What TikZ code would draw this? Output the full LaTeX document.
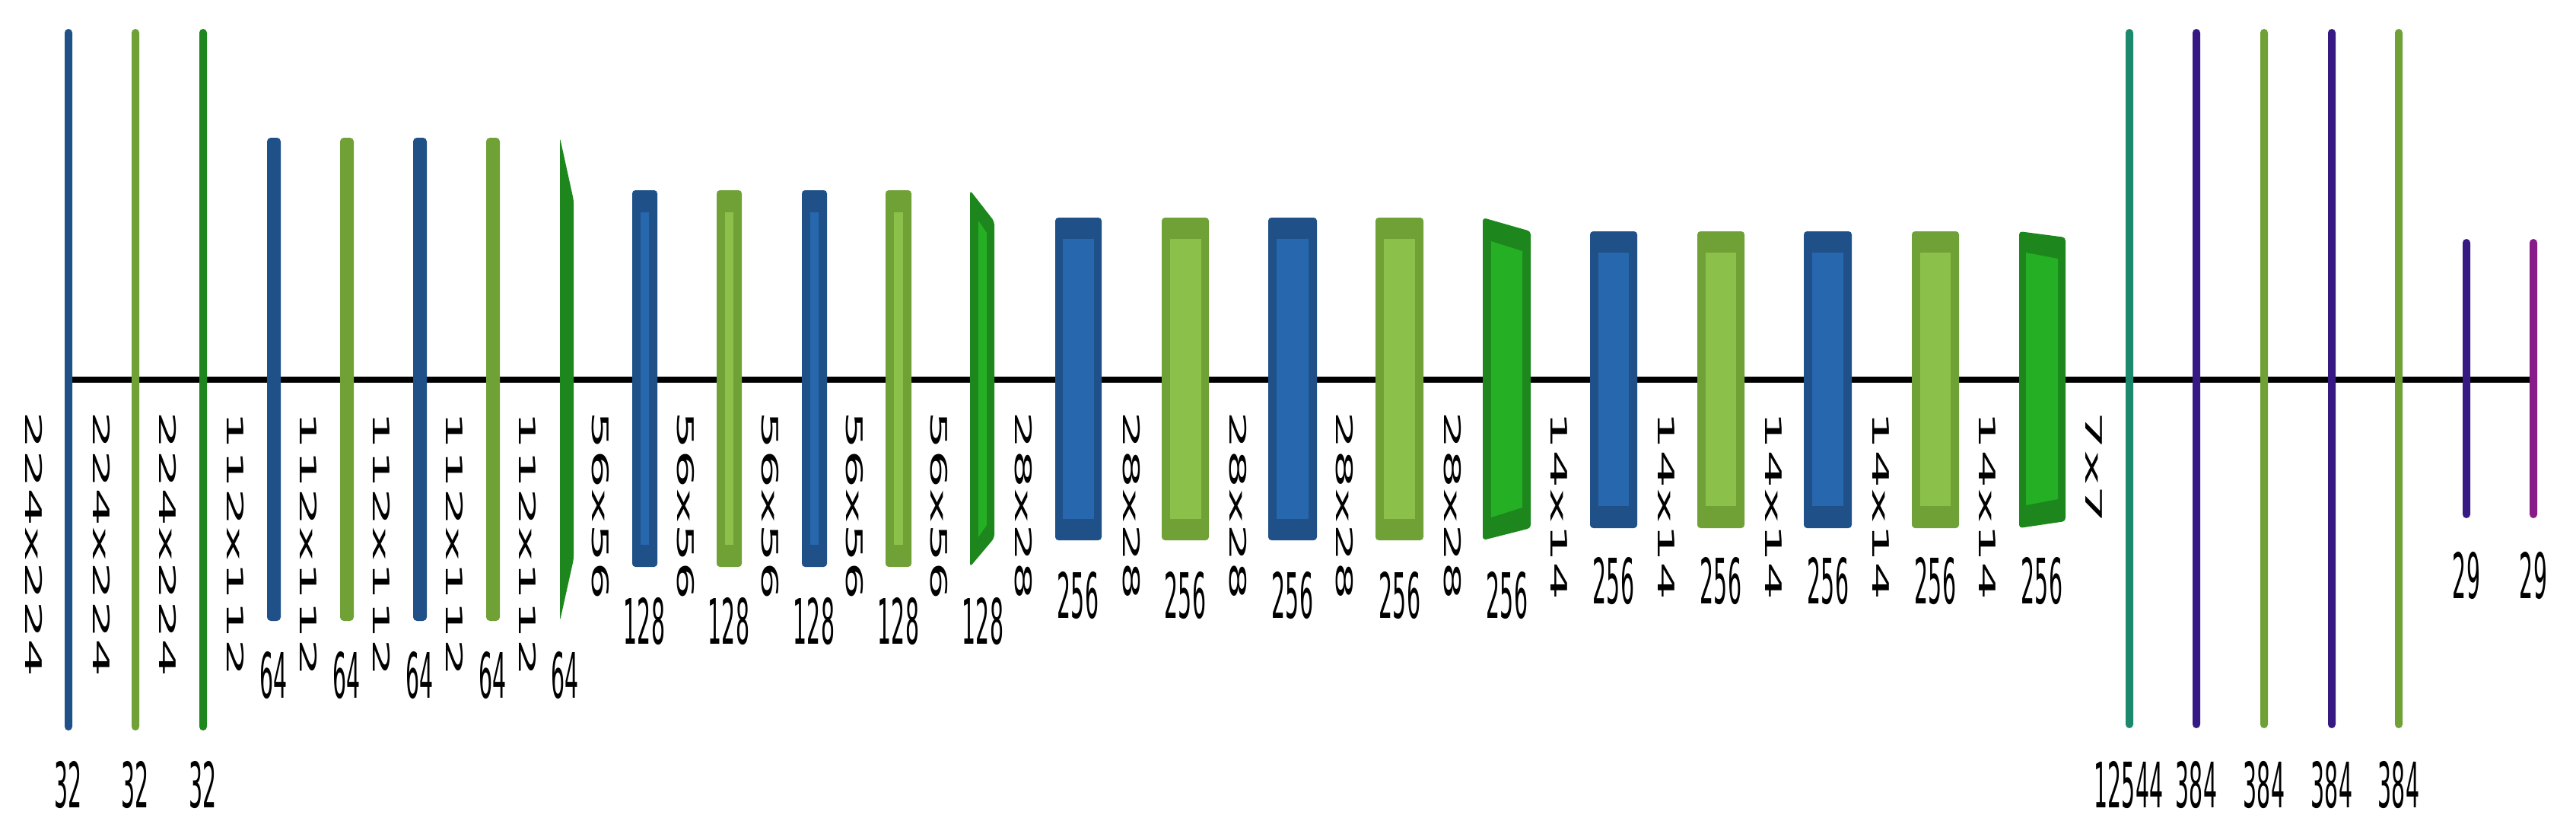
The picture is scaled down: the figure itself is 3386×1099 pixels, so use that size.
\documentclass[tikz,border=0pt]{standalone}
\usepackage{fontspec}
\usepackage{tikz}
\newfontfamily\dimfont[FakeStretch=2.65]{DejaVu Sans}
\newfontfamily\chfont[FakeStretch=0.345]{DejaVu Sans}
\definecolor{blueD}{RGB}{31,81,136}
\definecolor{blueL}{RGB}{39,103,174}
\definecolor{lgreenD}{RGB}{112,161,55}
\definecolor{lgreenL}{RGB}{139,193,74}
\definecolor{greenD}{RGB}{29,135,29}
\definecolor{greenL}{RGB}{36,175,36}
\definecolor{tealD}{RGB}{28,136,110}
\definecolor{indigoD}{RGB}{55,25,132}
\definecolor{magentaD}{RGB}{136,28,136}
\tikzset{
  axisln/.style ={draw=black, line width=2.2pt},
  bar/.style    ={rounded corners=1.4pt},
  box/.style    ={rounded corners=1.2pt},
  dimlab/.style ={font=\dimfont\fontsize{8.5}{10}\selectfont, rotate=-90, anchor=west, inner sep=0pt},
  chlab/.style  ={font=\chfont\fontsize{23.4}{28}\selectfont, inner sep=0pt},
}
\begin{document}
\begin{tikzpicture}[x=0.01cm,y=-0.01cm]
  \useasboundingbox (0,0) rectangle (3386,1099);
  \coordinate (start) at (90,499);
  \coordinate (stop) at (3330,499);
  \draw[axisln] (start) -- (stop);
  % 224
  \fill[blueD,bar] (85,38) rectangle (95,960);
  \fill[lgreenD,bar] (173,38) rectangle (183,960);
  \fill[greenD,bar] (262,38) rectangle (272,960);
  \node[dimlab] (d1) at (45,540) {224x224};
  \node[dimlab] (d2) at (134,540) {224x224};
  \node[dimlab] (d3) at (221,540) {224x224};
  \node[chlab] (c1) at (90,1032) {32};
  \node[chlab] (c2) at (178,1032) {32};
  \node[chlab] (c3) at (267,1032) {32};
  % 112
  \fill[blueD,bar] (351,181) rectangle (369,816);
  \fill[lgreenD,bar] (447,181) rectangle (465,816);
  \fill[blueD,bar] (543,181) rectangle (561,816);
  \fill[lgreenD,bar] (639,181) rectangle (657,816);
  \fill[greenD,box] (736,181) -- (754,263) -- (754,735) -- (736,816) -- cycle;
  \node[dimlab] (d4) at (310,540) {112x112};
  \node[dimlab] (d5) at (406,540) {112x112};
  \node[dimlab] (d6) at (502,540) {112x112};
  \node[dimlab] (d7) at (598,540) {112x112};
  \node[dimlab] (d8) at (694,540) {112x112};
  \node[chlab] (c4) at (360,888) {64};
  \node[chlab] (c5) at (456,888) {64};
  \node[chlab] (c6) at (552,888) {64};
  \node[chlab] (c7) at (648,888) {64};
  \node[chlab] (c8) at (743,888) {64};
  % 56
  \fill[blueD,box] (831,250) rectangle (864,745);
  \fill[blueL] (842,279) rectangle (853,716);
  \fill[lgreenD,box] (942,250) rectangle (975,745);
  \fill[lgreenL] (953,279) rectangle (964,716);
  \fill[blueD,box] (1054,250) rectangle (1087,745);
  \fill[blueL] (1065,279) rectangle (1076,716);
  \fill[lgreenD,box] (1164,250) rectangle (1198,745);
  \fill[lgreenL] (1175,279) rectangle (1187,716);
  \fill[greenD,box] (1275,250) -- (1307,291) -- (1307,707) -- (1275,745) -- cycle;
  \fill[greenL] (1286,290) -- (1297,306) -- (1297,690) -- (1286,706) -- cycle;
  \node[dimlab] (d9) at (789,540) {56x56};
  \node[dimlab] (d10) at (901,540) {56x56};
  \node[dimlab] (d11) at (1012,540) {56x56};
  \node[dimlab] (d12) at (1123,540) {56x56};
  \node[dimlab] (d13) at (1234,540) {56x56};
  \node[chlab] (c9) at (847,817) {128};
  \node[chlab] (c10) at (958,817) {128};
  \node[chlab] (c11) at (1070,817) {128};
  \node[chlab] (c12) at (1181,817) {128};
  \node[chlab] (c13) at (1292,817) {128};
  % 28
  \fill[blueD,box] (1387,286) rectangle (1448,710);
  \fill[blueL] (1397,314) rectangle (1438,682);
  \fill[lgreenD,box] (1527,286) rectangle (1589,710);
  \fill[lgreenL] (1538,314) rectangle (1579,682);
  \fill[blueD,box] (1667,286) rectangle (1731,710);
  \fill[blueL] (1678,314) rectangle (1720,682);
  \fill[lgreenD,box] (1808,286) rectangle (1871,710);
  \fill[lgreenL] (1819,314) rectangle (1860,682);
  \fill[greenD,box] (1949,286) -- (2012,304) -- (2012,694) -- (1949,710) -- cycle;
  \fill[greenL] (1960,317) -- (2001,330) -- (2001,667) -- (1960,680) -- cycle;
  \node[dimlab] (d14) at (1345,540) {28x28};
  \node[dimlab] (d15) at (1487,540) {28x28};
  \node[dimlab] (d16) at (1627,540) {28x28};
  \node[dimlab] (d17) at (1767,540) {28x28};
  \node[dimlab] (d18) at (1909,540) {28x28};
  \node[chlab] (c14) at (1417,783) {256};
  \node[chlab] (c15) at (1558,783) {256};
  \node[chlab] (c16) at (1699,783) {256};
  \node[chlab] (c17) at (1840,783) {256};
  \node[chlab] (c18) at (1981,783) {256};
  % 14
  \fill[blueD,box] (2090,304) rectangle (2152,694);
  \fill[blueL] (2101,332) rectangle (2141,665);
  \fill[lgreenD,box] (2231,304) rectangle (2293,694);
  \fill[lgreenL] (2242,332) rectangle (2282,665);
  \fill[blueD,box] (2371,304) rectangle (2434,694);
  \fill[blueL] (2382,332) rectangle (2423,665);
  \fill[lgreenD,box] (2513,304) rectangle (2575,694);
  \fill[lgreenL] (2524,332) rectangle (2564,665);
  \fill[greenD,box] (2654,304) -- (2715,312) -- (2715,685) -- (2654,694) -- cycle;
  \fill[greenL] (2663,332) -- (2705,340) -- (2705,656) -- (2663,664) -- cycle;
  \node[dimlab] (d19) at (2049,540) {14x14};
  \node[dimlab] (d20) at (2190,540) {14x14};
  \node[dimlab] (d21) at (2331,540) {14x14};
  \node[dimlab] (d22) at (2472,540) {14x14};
  \node[dimlab] (d23) at (2612,540) {14x14};
  \node[dimlab] (d24) at (2752,540) {7x7};
  \node[chlab] (c19) at (2121,764) {256};
  \node[chlab] (c20) at (2262,764) {256};
  \node[chlab] (c21) at (2403,764) {256};
  \node[chlab] (c22) at (2544,764) {256};
  \node[chlab] (c23) at (2684,764) {256};
  % dense
  \fill[tealD,bar] (2794,38) rectangle (2804,957);
  \fill[indigoD,bar] (2882,38) rectangle (2892,957);
  \fill[lgreenD,bar] (2971,38) rectangle (2981,957);
  \fill[indigoD,bar] (3060,38) rectangle (3070,957);
  \fill[lgreenD,bar] (3148,38) rectangle (3158,957);
  \fill[indigoD,bar] (3237,314) rectangle (3247,681);
  \fill[magentaD,bar] (3325,314) rectangle (3335,681);
  \node[chlab] (c24) at (2798,1032) {12544};
  \node[chlab] (c25) at (2887,1032) {384};
  \node[chlab] (c26) at (2976,1032) {384};
  \node[chlab] (c27) at (3065,1032) {384};
  \node[chlab] (c28) at (3153,1032) {384};
  \node[chlab] (c29) at (3242,757) {29};
  \node[chlab] (c30) at (3330,757) {29};
\end{tikzpicture}
\end{document}
